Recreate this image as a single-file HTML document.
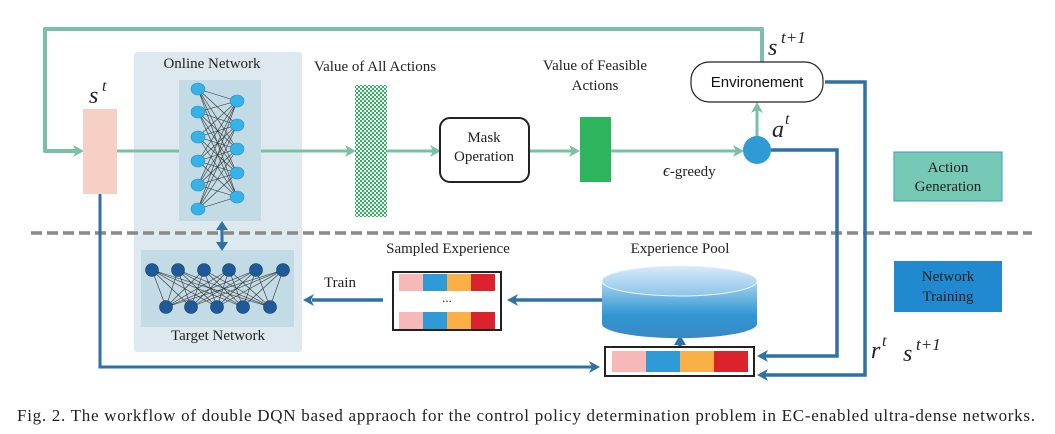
<!DOCTYPE html>
<html><head><meta charset="utf-8"><style>
html,body{margin:0;padding:0;background:#fff;}
svg{display:block;}
.serif{font-family:"Liberation Serif",serif;}
.sans{font-family:"Liberation Sans",sans-serif;}
</style></head><body>
<svg width="1055" height="434" viewBox="0 0 1055 434" xmlns="http://www.w3.org/2000/svg">
<defs>
<pattern id="chk" width="4" height="4" patternUnits="userSpaceOnUse">
<rect width="4" height="4" fill="#fff"/>
<rect x="0" y="0" width="2" height="2" fill="#2db55d"/>
<rect x="2" y="2" width="2" height="2" fill="#2db55d"/>
</pattern>
<linearGradient id="cyl" x1="0" y1="0" x2="0" y2="1">
<stop offset="0" stop-color="#a9d3ee"/><stop offset="0.6" stop-color="#2f97d3"/><stop offset="1" stop-color="#3a88c4"/>
</linearGradient>
<linearGradient id="cyltop" x1="0" y1="0" x2="0" y2="1">
<stop offset="0" stop-color="#d7ebf8"/><stop offset="1" stop-color="#8cc4ea"/>
</linearGradient>
</defs>

<rect x="134" y="52" width="168" height="300" rx="3" fill="#dde9ee"/>
<rect x="179" y="80" width="82" height="141" fill="#c3dbe5"/>
<rect x="141" y="250" width="153" height="77" fill="#c3dbe5"/>

<path d="M762 62 V29 H45 V151 H78" fill="none" stroke="#7bbfa6" stroke-width="4" stroke-linejoin="round"/>
<polygon points="84,151 73,145 76,151 73,157" fill="#7bbfa6"/>
<rect x="83" y="109" width="34" height="85" fill="#f7d0c5"/>
<text x="89" y="103" class="serif" font-style="italic" font-size="24" fill="#222">s</text>
<text x="102" y="91" class="serif" font-style="italic" font-size="16" fill="#222">t</text>

<path d="M117 151 H179" stroke="#7bbfa6" stroke-width="3"/>
<path d="M261 151 H350" stroke="#7bbfa6" stroke-width="3"/>
<polygon points="356,151 345,145 348,151 345,157" fill="#7bbfa6"/>
<path d="M387 151 H435" stroke="#7bbfa6" stroke-width="3"/>
<polygon points="441,151 430,145 433,151 430,157" fill="#7bbfa6"/>
<path d="M529 151 H574" stroke="#7bbfa6" stroke-width="3"/>
<polygon points="580,151 569,145 572,151 569,157" fill="#7bbfa6"/>
<path d="M611 151 H738" stroke="#7bbfa6" stroke-width="3"/>
<polygon points="744,151 733,145 736,151 733,157" fill="#7bbfa6"/>
<path d="M757 137 V108" stroke="#7bbfa6" stroke-width="3"/>
<polygon points="757,102 751,113 757,110 763,113" fill="#7bbfa6"/>

<path d="M198 89L237 101M198 89L237 125M198 89L237 149M198 89L237 173M198 89L237 197M198 112L237 101M198 112L237 125M198 112L237 149M198 112L237 173M198 112L237 197M198 137L237 101M198 137L237 125M198 137L237 149M198 137L237 173M198 137L237 197M198 161L237 101M198 161L237 125M198 161L237 149M198 161L237 173M198 161L237 197M198 185L237 101M198 185L237 125M198 185L237 149M198 185L237 173M198 185L237 197M198 209L237 101M198 209L237 125M198 209L237 149M198 209L237 173M198 209L237 197" stroke="#333" stroke-width="0.6"/>
<g fill="#35b3e8" stroke="#2a8fc0" stroke-width="0.6">
<ellipse cx="198" cy="89" rx="7" ry="6"/><ellipse cx="198" cy="112" rx="7" ry="6"/><ellipse cx="198" cy="137" rx="7" ry="6"/><ellipse cx="198" cy="161" rx="7" ry="6"/><ellipse cx="198" cy="185" rx="7" ry="6"/><ellipse cx="198" cy="209" rx="7" ry="6"/>
<ellipse cx="237" cy="101" rx="7" ry="6"/><ellipse cx="237" cy="125" rx="7" ry="6"/><ellipse cx="237" cy="149" rx="7" ry="6"/><ellipse cx="237" cy="173" rx="7" ry="6"/><ellipse cx="237" cy="197" rx="7" ry="6"/>
</g>
<path d="M152 270L166 307M152 270L191 307M152 270L217 307M152 270L243 307M152 270L270 307M178 270L166 307M178 270L191 307M178 270L217 307M178 270L243 307M178 270L270 307M204 270L166 307M204 270L191 307M204 270L217 307M204 270L243 307M204 270L270 307M229 270L166 307M229 270L191 307M229 270L217 307M229 270L243 307M229 270L270 307M256 270L166 307M256 270L191 307M256 270L217 307M256 270L243 307M256 270L270 307M283 270L166 307M283 270L191 307M283 270L217 307M283 270L243 307M283 270L270 307" stroke="#333" stroke-width="0.6"/>
<g fill="#1e5a97" stroke="#17406b" stroke-width="0.6">
<circle cx="152" cy="270" r="6.5"/><circle cx="178" cy="270" r="6.5"/><circle cx="204" cy="270" r="6.5"/><circle cx="229" cy="270" r="6.5"/><circle cx="256" cy="270" r="6.5"/><circle cx="283" cy="270" r="6.5"/>
<circle cx="166" cy="307" r="6.5"/><circle cx="191" cy="307" r="6.5"/><circle cx="217" cy="307" r="6.5"/><circle cx="243" cy="307" r="6.5"/><circle cx="270" cy="307" r="6.5"/>
</g>
<path d="M222 228 V244" stroke="#2e72a4" stroke-width="3"/>
<polygon points="222,221 216,230 228,230" fill="#2e72a4"/>
<polygon points="222,251 216,242 228,242" fill="#2e72a4"/>

<text x="212" y="68" class="serif" font-size="15" text-anchor="middle" fill="#222">Online Network</text>
<text x="218" y="340" class="serif" font-size="15" text-anchor="middle" fill="#222">Target Network</text>

<rect x="355" y="85" width="32" height="132" fill="url(#chk)"/>
<text x="375" y="71" class="serif" font-size="15" text-anchor="middle" fill="#222">Value of All Actions</text>

<rect x="440" y="118" width="89" height="64" rx="10" fill="#fff" stroke="#222" stroke-width="2"/>
<text x="484" y="142" class="serif" font-size="15" text-anchor="middle" fill="#222">Mask</text>
<text x="484" y="161" class="serif" font-size="15" text-anchor="middle" fill="#222">Operation</text>

<rect x="580" y="117" width="31" height="65" fill="#2db55d"/>
<text x="595" y="70" class="serif" font-size="15" text-anchor="middle" fill="#222">Value of Feasible</text>
<text x="595" y="90" class="serif" font-size="15" text-anchor="middle" fill="#222">Actions</text>
<text x="663" y="176" class="serif" font-size="15" fill="#222"><tspan font-style="italic" font-size="17">ϵ</tspan>-greedy</text>

<circle cx="757" cy="150" r="14" fill="#2e9ad6"/>
<text x="772" y="137" class="serif" font-style="italic" font-size="24" fill="#222">a</text>
<text x="785" y="124" class="serif" font-style="italic" font-size="16" fill="#222">t</text>

<rect x="691" y="62" width="132" height="40" rx="18" fill="#fff" stroke="#222" stroke-width="1.2"/>
<text x="757" y="87" class="sans" font-size="15" text-anchor="middle" fill="#111">Environement</text>
<text x="768" y="55" class="serif" font-style="italic" font-size="24" fill="#222">s</text>
<text x="781" y="43" class="serif" font-style="italic" font-size="17" fill="#222">t+1</text>

<path d="M31 233 H1032" stroke="#8a8a8a" stroke-width="3.5" stroke-dasharray="11 5"/>

<path d="M771 150 H837 V356 H764" fill="none" stroke="#2e72a4" stroke-width="3.5"/>
<polygon points="757,356 768,350 765,356 768,362" fill="#2e72a4"/>
<path d="M825 82 H865 V375 H764" fill="none" stroke="#2e72a4" stroke-width="3.5"/>
<polygon points="757,375 768,369 765,375 768,381" fill="#2e72a4"/>
<path d="M100 194 V367 H593" fill="none" stroke="#2e72a4" stroke-width="3"/>
<polygon points="600,367 589,361 592,367 589,373" fill="#2e72a4"/>
<path d="M680 346 V339" stroke="#2e72a4" stroke-width="3.5"/>
<polygon points="680,335 674,345 686,345" fill="#2e72a4"/>
<path d="M602 300 H514" stroke="#2e72a4" stroke-width="3.5"/>
<polygon points="507,300 518,294 515,300 518,306" fill="#2e72a4"/>
<path d="M383 300 H312" stroke="#2e72a4" stroke-width="3.5"/>
<polygon points="303,300 314,294 311,300 314,306" fill="#2e72a4"/>
<text x="340" y="287" class="serif" font-size="15" text-anchor="middle" fill="#222">Train</text>

<rect x="605" y="347" width="149" height="29" fill="#fff" stroke="#222" stroke-width="2"/>
<rect x="612" y="351" width="34" height="21" fill="#f8b8b8"/>
<rect x="646" y="351" width="34" height="21" fill="#2e9ad6"/>
<rect x="680" y="351" width="34" height="21" fill="#fbb046"/>
<rect x="714" y="351" width="34" height="21" fill="#db222d"/>

<path d="M602 281 V324 A77 14 0 0 0 757 324 V281 Z" fill="url(#cyl)"/>
<ellipse cx="679.5" cy="281" rx="77.5" ry="15" fill="url(#cyltop)" stroke="#eaf5fc" stroke-width="1"/>
<text x="680" y="253" class="serif" font-size="15" text-anchor="middle" fill="#222">Experience Pool</text>

<rect x="393" y="272" width="108" height="58" fill="#fff" stroke="#222" stroke-width="2"/>
<rect x="399" y="274" width="24" height="17" fill="#f8b8b8"/>
<rect x="423" y="274" width="24" height="17" fill="#2e9ad6"/>
<rect x="447" y="274" width="24" height="17" fill="#fbb046"/>
<rect x="471" y="274" width="24" height="17" fill="#db222d"/>
<rect x="399" y="312" width="24" height="17" fill="#f8b8b8"/>
<rect x="423" y="312" width="24" height="17" fill="#2e9ad6"/>
<rect x="447" y="312" width="24" height="17" fill="#fbb046"/>
<rect x="471" y="312" width="24" height="17" fill="#db222d"/>
<text x="447" y="302" class="serif" font-size="13" text-anchor="middle" fill="#222">...</text>
<text x="448" y="253" class="serif" font-size="15" text-anchor="middle" fill="#222">Sampled Experience</text>

<rect x="894" y="152" width="108" height="49" fill="#76c9b4" stroke="#3a9bd0" stroke-width="1"/>
<text x="948" y="172" class="serif" font-size="15" text-anchor="middle" fill="#222">Action</text>
<text x="948" y="191" class="serif" font-size="15" text-anchor="middle" fill="#222">Generation</text>
<rect x="894" y="261" width="108" height="51" fill="#2189cf"/>
<text x="948" y="281" class="serif" font-size="15" text-anchor="middle" fill="#222">Network</text>
<text x="948" y="301" class="serif" font-size="15" text-anchor="middle" fill="#222">Training</text>

<text x="871" y="358" class="serif" font-style="italic" font-size="24" fill="#222">r</text>
<text x="882" y="346" class="serif" font-style="italic" font-size="16" fill="#222">t</text>
<text x="903" y="361" class="serif" font-style="italic" font-size="24" fill="#222">s</text>
<text x="916" y="350" class="serif" font-style="italic" font-size="17" fill="#222">t+1</text>

<text x="17" y="421" class="serif" font-size="17" fill="#222" textLength="1018" lengthAdjust="spacing">Fig. 2.  The workflow of double DQN based appraoch for the control policy determination problem in EC-enabled ultra-dense networks.</text>
</svg>
</body></html>
